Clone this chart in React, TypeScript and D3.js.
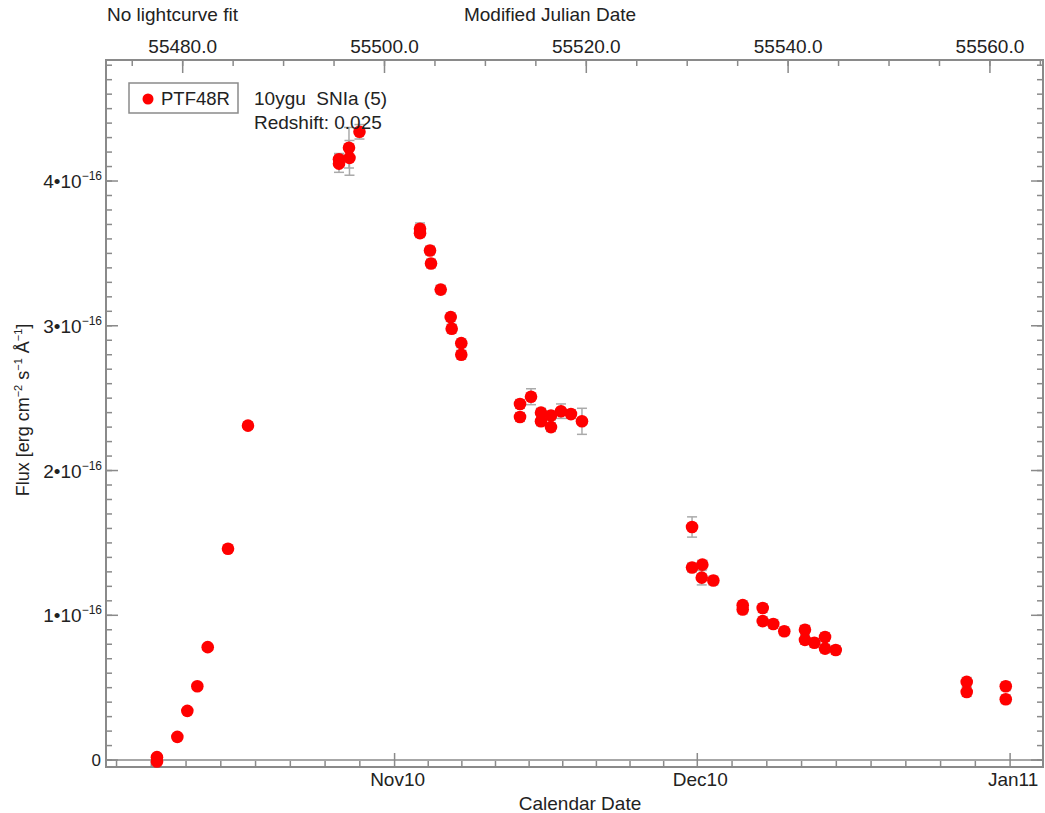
import React from "react";
import * as d3 from "d3";

const mjd = [55477.45, 55477.45, 55479.47, 55480.46, 55481.45, 55482.48, 55484.49, 55486.47, 55495.49, 55495.49, 55496.48, 55496.53, 55497.52, 55503.52, 55503.52, 55504.51, 55504.61, 55505.57, 55506.56, 55506.66, 55507.61, 55507.61, 55513.43, 55513.43, 55514.52, 55515.51, 55515.51, 55516.5, 55516.5, 55517.49, 55518.48, 55519.57, 55530.48, 55530.48, 55531.5, 55531.44, 55532.59, 55535.5, 55535.5, 55537.48, 55537.48, 55538.53, 55539.62, 55541.67, 55541.67, 55542.6, 55543.66, 55543.66, 55544.72, 55557.7, 55557.7, 55561.57, 55561.57];
const flux = [0.02, -0.01, 0.16, 0.34, 0.51, 0.78, 1.46, 2.31, 4.15, 4.12, 4.23, 4.16, 4.34, 3.67, 3.64, 3.52, 3.43, 3.25, 3.06, 2.98, 2.88, 2.8, 2.46, 2.37, 2.51, 2.4, 2.34, 2.38, 2.3, 2.41, 2.39, 2.34, 1.61, 1.33, 1.35, 1.26, 1.24, 1.07, 1.04, 1.05, 0.96, 0.94, 0.89, 0.9, 0.83, 0.81, 0.85, 0.77, 0.76, 0.54, 0.47, 0.51, 0.42];
const fluxErr = [0.02, 0.02, 0.02, 0.02, 0.02, 0.02, 0.02, 0.025, 0.04, 0.06, 0.14, 0.12, 0.05, 0.04, 0.03, 0.03, 0.03, 0.03, 0.03, 0.03, 0.03, 0.03, 0.03, 0.03, 0.055, 0.03, 0.03, 0.03, 0.03, 0.05, 0.03, 0.09, 0.07, 0.03, 0.03, 0.05, 0.03, 0.03, 0.03, 0.03, 0.03, 0.03, 0.03, 0.03, 0.03, 0.03, 0.03, 0.03, 0.03, 0.03, 0.03, 0.03, 0.03];

const mjdTicks = [55480, 55500, 55520, 55540, 55560];
const monthStarts = [55470, 55501, 55531, 55562, 55593];
const monthLabels = ["", "Nov10", "Dec10", "Jan11", ""];
const yMajor = [0, 1, 2, 3, 4];

const W = 1045, H = 813;
const L = 106, R = 1043, T = 60, B = 767;
const AX = "#8a8a8a";
const TXT = "#222";
const FONT = "Liberation Sans, Arial, Helvetica, sans-serif";

export default function App() {
  const x = d3.scaleLinear().domain([55472.4, 55565.26]).range([L, R]);
  const y = d3.scaleLinear().domain([-0.048, 4.836]).range([B, T]);

  const topMinor = d3.range(55470, 55566, 5).filter((v) => x(v) >= L && x(v) <= R);
  const yMinor = d3.range(0, 48.5, 1).map((v) => v / 10).filter((v) => y(v) <= B && y(v) >= T);
  const botMinor: number[] = [];
  for (let i = 0; i < monthStarts.length - 1; i++) {
    const a = monthStarts[i], b = monthStarts[i + 1];
    for (let k = 1; k < 9; k++) botMinor.push(a + ((b - a) * k) / 9);
  }
  const botMinorIn = botMinor.filter((v) => x(v) >= L && x(v) <= R);
  const botMajorIn = monthStarts.map((v, i) => ({ v, l: monthLabels[i] })).filter((d) => x(d.v) >= L && x(d.v) <= R);

  return (
    <svg width={W} height={H} style={{ position: "absolute", left: 0, top: 0, background: "#fff" }} fontFamily={FONT}>
      <rect x={0} y={0} width={W} height={H} fill="#fff" />
      {/* titles */}
      <text x={107} y={21} fontSize={19} fill={TXT}>No lightcurve fit</text>
      <text x={550} y={21} fontSize={19} fill={TXT} textAnchor="middle">Modified Julian Date</text>
      <text x={580} y={810} fontSize={19} fill={TXT} textAnchor="middle">Calendar Date</text>
      <text transform={`translate(29,410) rotate(-90)`} fontSize={18} fill={TXT} textAnchor="middle">
        Flux [erg cm<tspan dy={-7} fontSize={11}>−2</tspan><tspan dy={7}> s</tspan><tspan dy={-7} fontSize={11}>−1</tspan><tspan dy={7}> Å</tspan><tspan dy={-7} fontSize={11}>−1</tspan><tspan dy={7}>]</tspan>
      </text>

      {/* zero line */}
      <line x1={L} x2={R} y1={y(0)} y2={y(0)} stroke={AX} strokeWidth={1.5} />

      {/* frame */}
      <rect x={L} y={T} width={R - L} height={B - T} fill="none" stroke={AX} strokeWidth={2} />

      {/* top axis */}
      {topMinor.map((v) => (
        <line key={"tm" + v} x1={x(v)} x2={x(v)} y1={T} y2={T + 6} stroke={AX} strokeWidth={1.5} />
      ))}
      {mjdTicks.map((v) => (
        <g key={"tM" + v}>
          <line x1={x(v)} x2={x(v)} y1={T} y2={T + 13} stroke={AX} strokeWidth={1.5} />
          <text x={x(v)} y={53} fontSize={19} fill={TXT} textAnchor="middle">{v.toFixed(1)}</text>
        </g>
      ))}

      {/* bottom axis */}
      {botMinorIn.map((v, i) => (
        <line key={"bm" + i} x1={x(v)} x2={x(v)} y1={B} y2={B - 6} stroke={AX} strokeWidth={1.5} />
      ))}
      {botMajorIn.map((d) => (
        <g key={"bM" + d.v}>
          <line x1={x(d.v)} x2={x(d.v)} y1={B} y2={B - 14} stroke={AX} strokeWidth={1.5} />
          <text x={x(d.v) + 3} y={786} fontSize={19} fill={TXT} textAnchor="middle">{d.l}</text>
        </g>
      ))}

      {/* y axes */}
      {yMinor.map((v) => (
        <g key={"ym" + v}>
          <line x1={L} x2={L + 6} y1={y(v)} y2={y(v)} stroke={AX} strokeWidth={1.5} />
          <line x1={R} x2={R - 6} y1={y(v)} y2={y(v)} stroke={AX} strokeWidth={1.5} />
        </g>
      ))}
      {yMajor.map((v) => (
        <g key={"yM" + v}>
          <line x1={L} x2={L + 12} y1={y(v)} y2={y(v)} stroke={AX} strokeWidth={1.5} />
          <line x1={R} x2={R - 12} y1={y(v)} y2={y(v)} stroke={AX} strokeWidth={1.5} />
          {v === 0 ? (
            <text x={101} y={y(v) + 6} fontSize={17} fill={TXT} textAnchor="end">0</text>
          ) : (
            <text x={102} y={y(v) + 7} fontSize={19} fill={TXT} textAnchor="end">
              {v}•10<tspan dy={-8} fontSize={12}>−16</tspan>
            </text>
          )}
        </g>
      ))}

      {/* error bars */}
      {mjd.map((m, i) => (
        <g key={"e" + i} stroke="#aaaaaa" strokeWidth={1.5}>
          <line x1={x(m)} x2={x(m)} y1={y(flux[i] - fluxErr[i])} y2={y(flux[i] + fluxErr[i])} />
          <line x1={x(m) - 5} x2={x(m) + 5} y1={y(flux[i] - fluxErr[i])} y2={y(flux[i] - fluxErr[i])} />
          <line x1={x(m) - 5} x2={x(m) + 5} y1={y(flux[i] + fluxErr[i])} y2={y(flux[i] + fluxErr[i])} />
        </g>
      ))}
      {/* points */}
      {mjd.map((m, i) => (
        <circle key={"p" + i} cx={x(m)} cy={y(flux[i])} r={6.3} fill="#ff0000" />
      ))}

      {/* legend */}
      <rect x={129} y={83} width={109} height={30} fill="#fff" stroke={AX} strokeWidth={1.5} />
      <circle cx={148} cy={99} r={5.5} fill="#ff0000" />
      <text x={161} y={105} fontSize={18.5} fill={TXT}>PTF48R</text>
      <text x={254} y={105} fontSize={19} fill={TXT}>10ygu{"\u00a0\u00a0"}SNIa (5)</text>
      <text x={254} y={129} fontSize={19} fill={TXT}>Redshift: 0.025</text>
    </svg>
  );
}
